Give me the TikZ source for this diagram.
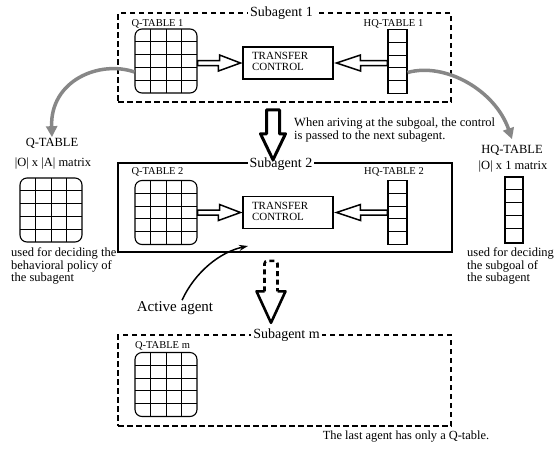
\documentclass[tikz,border=0pt]{standalone}
\usepackage{fontspec}
\setmainfont{Liberation Serif}
\usetikzlibrary{arrows.meta}
\definecolor{arrgray}{RGB}{135,135,135}
\newcommand{\tctext}{\raisebox{-3pt}{\begin{tabular}{@{}l@{}}TRANSFER\\CONTROL\end{tabular}}}
\begin{document}
\begin{tikzpicture}[x=1pt,y=-1pt,
  dashbox/.style={draw, line width=2.6pt, dash pattern=on 5.5pt off 3.5pt, inner sep=0pt},
  solidbox/.style={draw, line width=2.6pt, inner sep=0pt},
  boxlabel/.style={fill=white, inner xsep=2pt, inner ysep=1pt, font=\fontsize{14}{16}\selectfont},
  tablabel/.style={inner sep=0pt, font=\fontsize{10.5}{12}\selectfont},
  biglabel/.style={inner sep=0.5pt, font=\fontsize{12.5}{14}\selectfont},
  note/.style={inner sep=0pt, align=left, font=\fontsize{12.5}{11}\selectfont},
  tbox/.style={draw, line width=1.1pt, minimum width=90pt, minimum height=32pt, text width=72pt,
    inner xsep=9pt, inner ysep=0pt, align=left, font=\fontsize{11}{11}\selectfont},
  qtab/.style={draw, line width=1.1pt, rounded corners=7pt, minimum width=62pt, minimum height=64pt, inner sep=0pt,
    path picture={
      \foreach \i in {1,2,3}{\draw[line width=1pt] ([xshift={\i*15.5pt}]path picture bounding box.north west) -- ([xshift={\i*15.5pt}]path picture bounding box.south west);}
      \foreach \j in {1,2,3,4}{\draw[line width=1pt] ([yshift={-\j*12.8pt}]path picture bounding box.north west) -- ([yshift={-\j*12.8pt}]path picture bounding box.north east);}
    }},
  hqtab/.style={draw, line width=1.1pt, minimum width=19pt, minimum height=64pt, inner sep=0pt,
    path picture={
      \foreach \j in {1,2,3,4}{\draw[line width=1pt] ([yshift={-\j*12.8pt}]path picture bounding box.north west) -- ([yshift={-\j*12.8pt}]path picture bounding box.north east);}
    }},
  hollow/.style={draw, line width=1.5pt, fill=white, line join=miter},
  bigarrow/.style={draw, line width=3pt, line join=round},
  grayarrow/.style={draw=arrgray, line width=3.5pt, -{Triangle[length=11pt,width=11pt]}},
  activearrow/.style={draw, line width=1.5pt, -{Stealth[length=9pt,width=6pt]}}
]
\useasboundingbox (0,0) rectangle (559,448);

% ---------- Subagent 1 ----------
\node[dashbox, minimum width=333pt, minimum height=89pt] (sa1) at (284.5,57.5) {};
\node[boxlabel] (sa1l) at (281.5,13) {Subagent 1};
\node[qtab] (q1) at (166,61) {};
\node[tablabel] (q1l) at (157.5,24) {Q-TABLE 1};
\node[hqtab] (hq1) at (397.5,61.5) {};
\node[tablabel] (hq1l) at (393.5,24) {HQ-TABLE 1};
\node[tbox] (t1) at (288,63) {\tctext};
\coordinate (qa1) at (q1.east |- t1.west);
\coordinate (ha1) at (hq1.west |- t1.east);
\draw[hollow] ([yshift=2.5pt]qa1) -- ++(22,0) -- ++(0,-5.5) -- ([xshift=-2pt]t1.west) -- ++(-22,8) -- ++(0,-5.5) -- ([yshift=-2.5pt]qa1) -- cycle;
\draw[hollow] ([yshift=2.5pt]ha1) -- ++(-27,0) -- ++(0,-5.5) -- ([xshift=3pt]t1.east) -- ++(24,8) -- ++(0,-5.5) -- ([yshift=-2.5pt]ha1) -- cycle;

% ---------- Subagent 2 ----------
\node[solidbox, minimum width=334pt, minimum height=89pt] (sa2) at (285,207.5) {};
\node[boxlabel] (sa2l) at (281,164) {Subagent 2};
\node[qtab] (q2) at (166,212.5) {};
\node[tablabel] (q2l) at (157.5,172) {Q-TABLE 2};
\node[hqtab] (hq2) at (397.5,212.5) {};
\node[tablabel] (hq2l) at (394,172) {HQ-TABLE 2};
\node[tbox] (t2) at (288,212.5) {\tctext};
\coordinate (qa2) at (q2.east |- t2.west);
\coordinate (ha2) at (hq2.west |- t2.east);
\draw[hollow] ([yshift=2.5pt]qa2) -- ++(22,0) -- ++(0,-5.5) -- ([xshift=-2pt]t2.west) -- ++(-22,8) -- ++(0,-5.5) -- ([yshift=-2.5pt]qa2) -- cycle;
\draw[hollow] ([yshift=2.5pt]ha2) -- ++(-27,0) -- ++(0,-5.5) -- ([xshift=3pt]t2.east) -- ++(24,8) -- ++(0,-5.5) -- ([yshift=-2.5pt]ha2) -- cycle;

% ---------- Subagent m ----------
\node[dashbox, minimum width=333pt, minimum height=91pt] (sam) at (284.5,380.5) {};
\node[boxlabel] (saml) at (286.5,335) {Subagent m};
\node[qtab] (qm) at (166,384.5) {};
\node[tablabel] (qml) at (162.5,346) {Q-TABLE m};
\node[note, font=\fontsize{12.4}{14}\selectfont] (last) at (406,437) {The last agent has only a Q-table.};

% ---------- block arrows between subagents ----------
\coordinate (b1) at ([xshift=-11.5pt,yshift=-6.5pt]sa1.south);
\draw[bigarrow] (b1) ++(-6.5,0) -- ++(0,24) -- ++(-6,0) -- ++(12.5,26) -- ++(12.5,-26) -- ++(-6,0) -- ++(0,-24) -- cycle;
\node[note, anchor=north west, font=\fontsize{12.5}{13}\selectfont] (when) at (294,117.5) {When ariving at the subgoal, the control\\is passed to the next subagent.};

\coordinate (b2) at ([xshift=-14pt,yshift=-7.5pt]sa2.south);
\draw[line width=2.6pt, dash pattern=on 5pt off 3.5pt, rounded corners=3pt] (b2) ++(-6.5,30.5) -- ++(0,-30.5) -- ++(13,0) -- ++(0,30.5);
\draw[line width=2.6pt, line join=round] (b2) ++(-6.5,30.5) -- ++(-8,0) -- ++(14.5,31.5) -- ++(14.5,-31.5) -- ++(-8,0);

% ---------- Active agent ----------
\node[inner sep=1pt, font=\fontsize{15}{17}\selectfont] (act) at (175,308) {Active agent};
\draw[activearrow] ([xshift=7pt]act.north) .. controls (195,272) and (220,252) .. (248,246);

% ---------- left: Q-TABLE explanation ----------
\node[biglabel] (qlab) at (52,143) {Q-TABLE};
\node[biglabel] (qmat) at (53,164) {|O| x |A| matrix};
\node[qtab] (qbig) at (51,210) {};
\node[note, anchor=north west] (qtxt) at (11,247.5) {used for deciding the\\behavioral policy of\\the subagent};
\draw[grayarrow] ([yshift=-11pt]q1.west) .. controls (100,60) and (50,80) .. (qlab.north);

% ---------- right: HQ-TABLE explanation ----------
\node[biglabel] (hqlab) at (512,150) {HQ-TABLE};
\node[biglabel] (hqmat) at (513,167) {|O| x 1 matrix};
\node[hqtab, minimum width=18pt, minimum height=66pt] (hqbig) at (514,210) {};
\node[note, anchor=north west] (hqtxt) at (467,247.5) {used for deciding\\the subgoal of\\the subagent};
\draw[grayarrow] ([yshift=-11pt]hq1.east) .. controls (445,62) and (495,90) .. ([yshift=5pt]hqlab.north);
\end{tikzpicture}
\end{document}
